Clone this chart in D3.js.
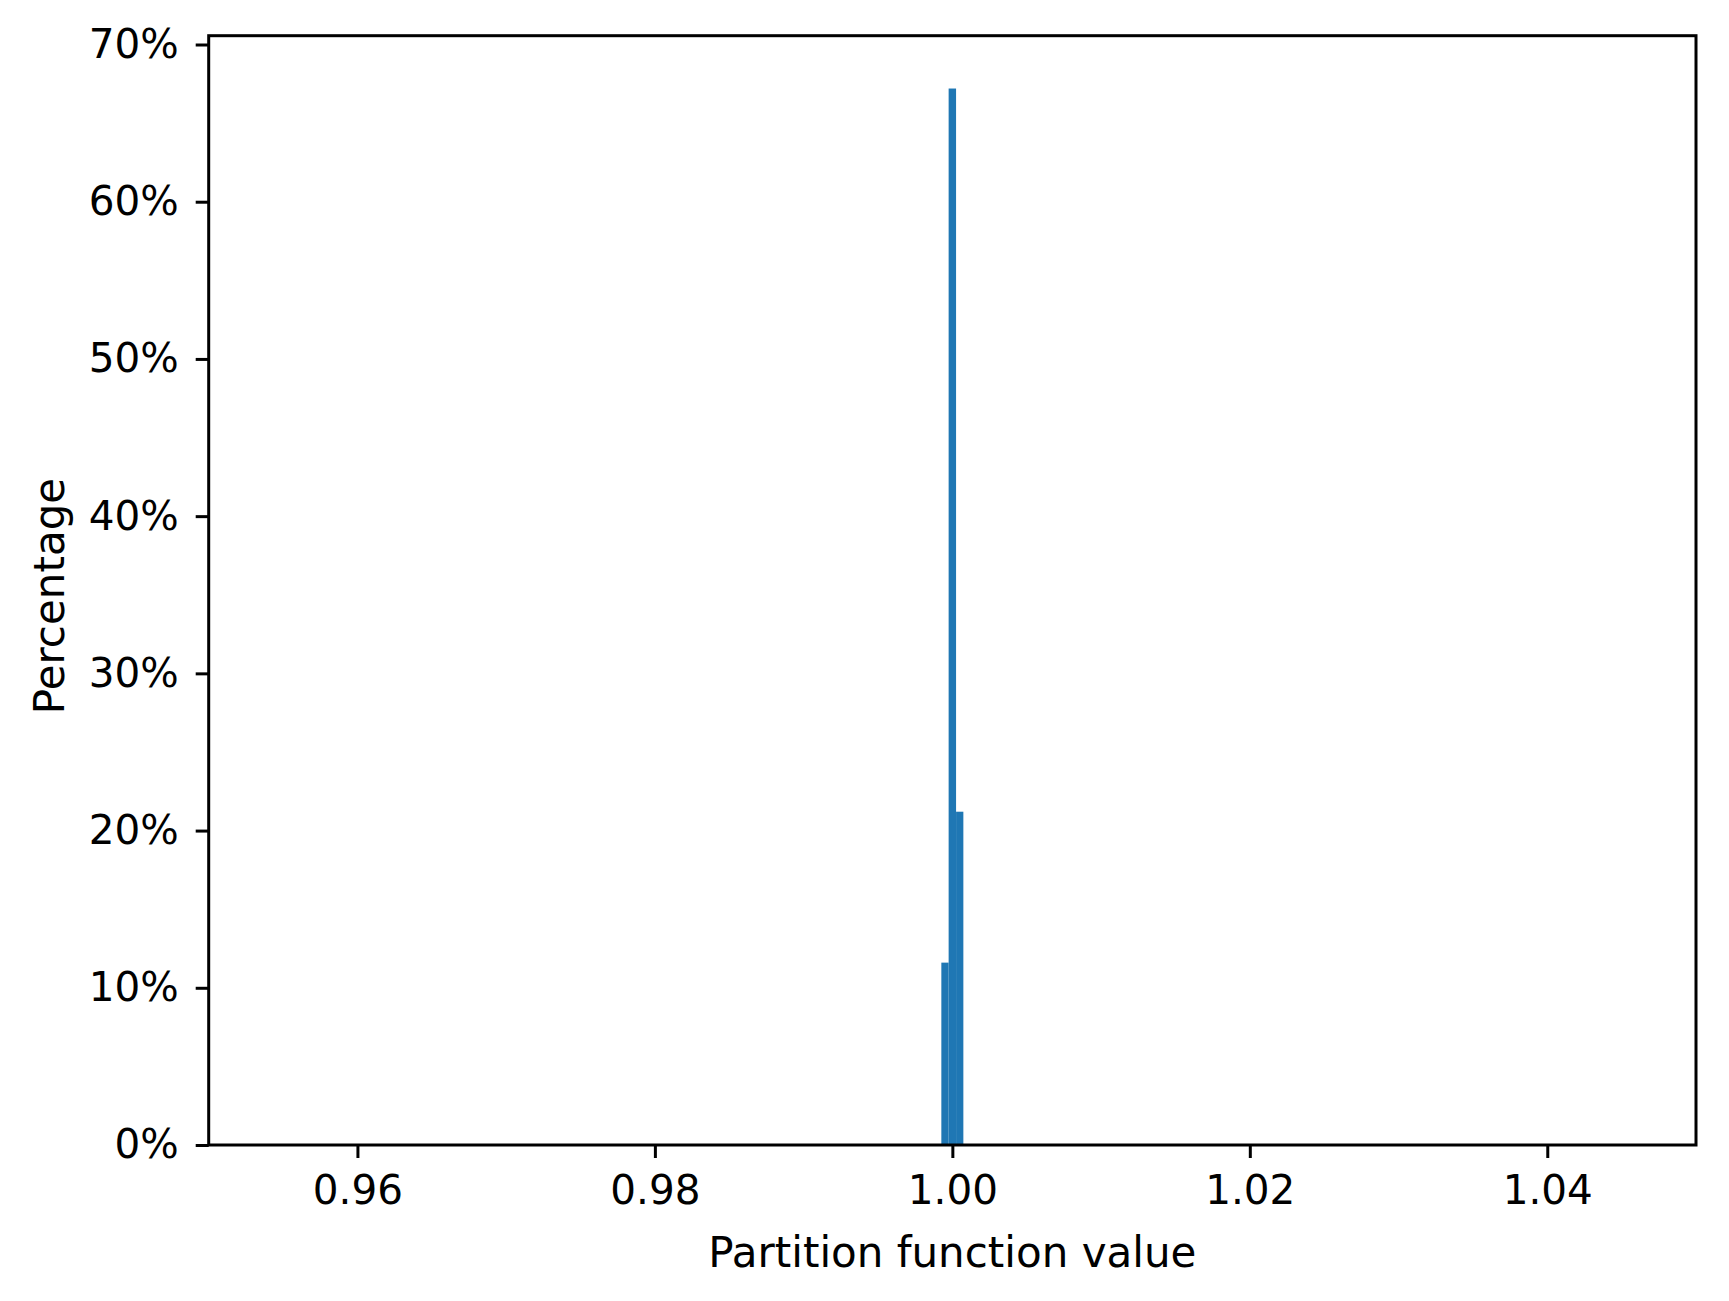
<!DOCTYPE html>
<html>
<head>
<meta charset="utf-8">
<script src="https://cdn.jsdelivr.net/npm/d3@7"></script>
<style>
  body { margin: 0; background: #fff; }
  svg { display: block; }
  text { font-family: "DejaVu Sans", sans-serif; fill: #000; }
</style>
</head>
<body>
<svg id="chart" width="1729" height="1301"></svg>
<script>
// histogram bins (partition function value) and share of samples in %
const binEdges = [0.99926, 0.99975, 1.00025, 1.00074];
const binPercent = [11.6, 67.2, 21.2];
const xTicks = [0.96, 0.98, 1.00, 1.02, 1.04];
const yTicks = [0, 10, 20, 30, 40, 50, 60, 70];

const W = 1729, H = 1301;
const margin = { left: 208.7, right: W - 1696, top: 35.7, bottom: H - 1145 };
const tickFs = 40.5, labelFs = 42;

const svg = d3.select("#chart");
const x = d3.scaleLinear().domain([0.95, 1.05]).range([margin.left, W - margin.right]);
const y = d3.scaleLinear().domain([0, 70.56]).range([H - margin.bottom, margin.top]);

const bins = binPercent.map((v, i) => ({ x0: binEdges[i], x1: binEdges[i + 1], v }));

svg.append("g").selectAll("rect").data(bins).join("rect")
    .attr("x", d => x(d.x0))
    .attr("width", d => x(d.x1) - x(d.x0))
    .attr("y", d => y(d.v))
    .attr("height", d => y(0) - y(d.v))
    .attr("fill", "#1f77b4");

// axes
const xAxis = svg.append("g")
    .attr("transform", `translate(0,${y(0)})`)
    .call(d3.axisBottom(x).tickValues(xTicks).tickFormat(d3.format(".2f")).tickSize(13).tickPadding(17));
const yAxis = svg.append("g")
    .attr("transform", `translate(${x(0.95)},0)`)
    .call(d3.axisLeft(y).tickValues(yTicks).tickFormat(d => d + "%").tickSize(13).tickPadding(17));

[xAxis, yAxis].forEach(g => {
    g.select(".domain").remove();
    g.selectAll(".tick line").attr("stroke", "#000").attr("stroke-width", 3);
    g.selectAll(".tick text").style("font-size", tickFs + "px").attr("fill", "#000");
});

// frame
svg.append("rect")
    .attr("x", x(0.95)).attr("y", y(70.56))
    .attr("width", x(1.05) - x(0.95)).attr("height", y(0) - y(70.56))
    .attr("fill", "none").attr("stroke", "#000").attr("stroke-width", 3);

svg.append("text")
    .attr("x", (x(0.95) + x(1.05)) / 2).attr("y", 1267)
    .attr("text-anchor", "middle").style("font-size", labelFs + "px")
    .text("Partition function value");

svg.append("text")
    .attr("transform", `translate(64,596) rotate(-90)`)
    .attr("text-anchor", "middle").style("font-size", labelFs + "px")
    .text("Percentage");
</script>
</body>
</html>
